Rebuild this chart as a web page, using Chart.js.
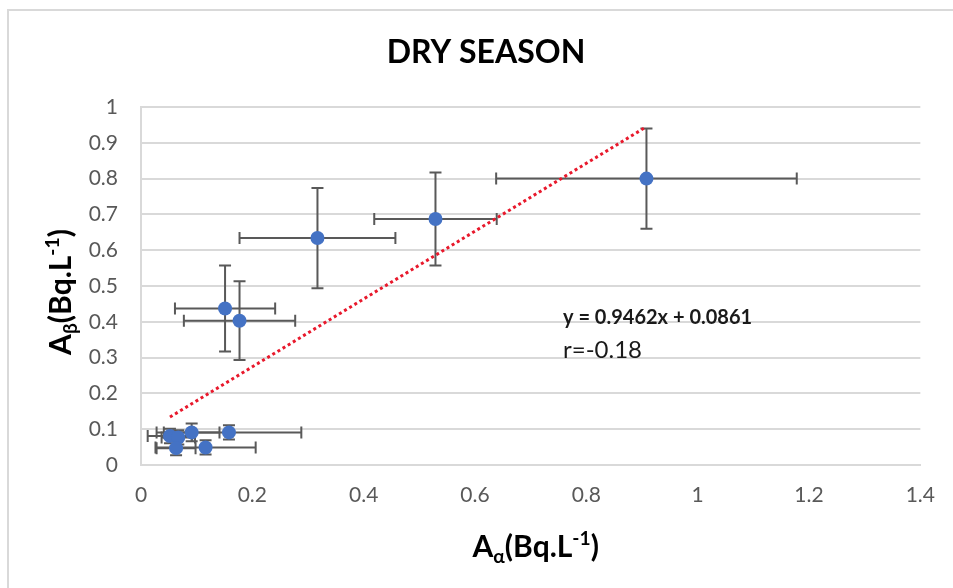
<!DOCTYPE html>
<html>
<head>
<meta charset="utf-8">
<title>Dry season</title>
<script src="https://cdn.jsdelivr.net/npm/chart.js@4.4.1/dist/chart.umd.min.js"></script>
<style>
    html, body { margin: 0; padding: 0; background: #fff; }
    #wrap { width: 953px; height: 588px; }
</style>
</head>
<body>
<div id="wrap"><canvas id="dry-season-chart"></canvas></div>
<script>
// Alpha / beta activity, dry season (Bq.L-1)
const alphaActivity = [0.908, 0.529, 0.317, 0.151, 0.177, 0.091, 0.158, 0.052, 0.067, 0.063, 0.116];
const betaActivity  = [0.800, 0.687, 0.634, 0.437, 0.403, 0.091, 0.091, 0.081, 0.077, 0.047, 0.049];
const alphaError    = [0.27, 0.11, 0.14, 0.09, 0.10, 0.05, 0.13, 0.04, 0.03, 0.035, 0.09];
const betaError     = [0.14, 0.13, 0.14, 0.12, 0.11, 0.025, 0.02, 0.02, 0.02, 0.02, 0.02];

// linear trendline as drawn (end points)
const trendX = [0.052, 0.908];
const trendY = [0.134, 0.945];

const xTicks = [0, 0.2, 0.4, 0.6, 0.8, 1, 1.2, 1.4];
const yTicks = [0, 0.1, 0.2, 0.3, 0.4, 0.5, 0.6, 0.7, 0.8, 0.9, 1];

const chartTitle = 'DRY SEASON';
const equationText = 'y = 0.9462x + 0.0861';
const rText = 'r=-0.18';

const FONT = 'Lato, "Open Sans", sans-serif';

// draws text with sub/superscript pieces, centred on (cx, cy)
function drawRich(ctx, parts, cx, cy, size) {
    let total = 0;
    parts.forEach(p => {
        p.size = p.shift ? size * 0.64 : size;
        ctx.font = `bold ${p.size}px ${FONT}`;
        p.w = ctx.measureText(p.text).width;
        total += p.w;
    });
    let x = cx - total / 2;
    const base = cy + size * 0.36;
    ctx.textAlign = 'left';
    ctx.textBaseline = 'alphabetic';
    parts.forEach(p => {
        ctx.font = `bold ${p.size}px ${FONT}`;
        let dy = 0;
        if (p.shift === 'sub') dy = size * 0.2;
        if (p.shift === 'sup') dy = -size * 0.4;
        ctx.fillText(p.text, x, base + dy);
        x += p.w;
    });
}

const decorations = {
    id: 'decorations',
    beforeDraw(chart) {
        const ctx = chart.ctx;
        ctx.save();
        ctx.fillStyle = '#ffffff';
        ctx.fillRect(0, 0, chart.width, chart.height);
        ctx.strokeStyle = '#d9d9d9';
        ctx.lineWidth = 2;
        ctx.strokeRect(8, 10, 1000, 1000);
        ctx.restore();
    },
    beforeDatasetsDraw(chart) {
        // error bars, behind the markers
        const ctx = chart.ctx;
        const xs = chart.scales.x;
        const ys = chart.scales.y;
        const cap = 6;
        ctx.save();
        ctx.strokeStyle = '#595959';
        ctx.lineWidth = 2;
        alphaActivity.forEach((a, i) => {
            const px = xs.getPixelForValue(a);
            const py = ys.getPixelForValue(betaActivity[i]);
            const x0 = xs.getPixelForValue(a - alphaError[i]);
            const x1 = xs.getPixelForValue(a + alphaError[i]);
            const y0 = ys.getPixelForValue(betaActivity[i] - betaError[i]);
            const y1 = ys.getPixelForValue(betaActivity[i] + betaError[i]);
            ctx.beginPath();
            ctx.moveTo(x0, py); ctx.lineTo(x1, py);
            ctx.moveTo(x0, py - cap); ctx.lineTo(x0, py + cap);
            ctx.moveTo(x1, py - cap); ctx.lineTo(x1, py + cap);
            ctx.moveTo(px, y0); ctx.lineTo(px, y1);
            ctx.moveTo(px - cap, y0); ctx.lineTo(px + cap, y0);
            ctx.moveTo(px - cap, y1); ctx.lineTo(px + cap, y1);
            ctx.stroke();
        });
        ctx.restore();
    },
    afterDraw(chart) {
        const ctx = chart.ctx;
        const area = chart.chartArea;
        ctx.save();
        ctx.fillStyle = '#000000';

        // title
        ctx.font = `bold 32px ${FONT}`;
        ctx.textAlign = 'center';
        ctx.textBaseline = 'middle';
        ctx.fillText(chartTitle, 486, 53);

        // axis titles
        drawRich(ctx, [
            { text: 'A' }, { text: 'α', shift: 'sub' }, { text: '(Bq.L' },
            { text: '-1', shift: 'sup' }, { text: ')' }
        ], (area.left + area.right) / 2 + 5, 546, 30);

        ctx.translate(60, (area.top + area.bottom) / 2 + 6);
        ctx.rotate(-Math.PI / 2);
        drawRich(ctx, [
            { text: 'A' }, { text: 'β', shift: 'sub' }, { text: '(Bq.L' },
            { text: '-1', shift: 'sup' }, { text: ')' }
        ], 0, 0, 30);
        ctx.setTransform(1, 0, 0, 1, 0, 0);

        // trendline label
        ctx.textAlign = 'left';
        ctx.textBaseline = 'middle';
        ctx.fillStyle = '#1a1a1a';
        ctx.font = `bold 20px ${FONT}`;
        ctx.fillText(equationText, 563, 318);
        ctx.font = `24px ${FONT}`;
        ctx.fillText(rText, 563, 350);
        ctx.restore();
    }
};

const ctx = document.getElementById('dry-season-chart').getContext('2d');
ctx.canvas.width = 953;
ctx.canvas.height = 588;

new Chart(ctx, {
    type: 'scatter',
    data: {
        datasets: [{
            type: 'line',
            label: 'Linear trend',
            data: trendX.map((x, i) => ({ x: x, y: trendY[i] })),
            borderColor: '#e8192c',
            borderWidth: 3,
            borderDash: [3, 3],
            pointRadius: 0,
            fill: false,
            tension: 0
        }, {
            label: 'Dry season',
            data: alphaActivity.map((x, i) => ({ x: x, y: betaActivity[i] })),
            backgroundColor: '#4472c4',
            borderColor: '#4472c4',
            borderWidth: 0,
            pointRadius: 7,
            pointHoverRadius: 7
        }]
    },
    options: {
        responsive: false,
        maintainAspectRatio: false,
        animation: false,
        layout: {
            padding: { top: 107, right: 31, bottom: 0, left: 0 }
        },
        scales: {
            x: {
                type: 'linear',
                min: 0,
                max: 1.4,
                afterBuildTicks: scale => { scale.ticks = xTicks.map(v => ({ value: v })); },
                afterFit: scale => { scale.height = 123; },
                grid: { display: false, drawTicks: false },
                border: { display: true, color: '#d9d9d9', width: 2 },
                ticks: {
                    padding: 18,
                    color: '#595959',
                    font: { family: FONT, size: 21 },
                    callback: v => String(Number(v.toFixed(1)))
                }
            },
            y: {
                type: 'linear',
                min: 0,
                max: 1,
                afterBuildTicks: scale => { scale.ticks = yTicks.map(v => ({ value: v })); },
                afterFit: scale => { scale.width = 141; },
                grid: { color: '#d9d9d9', lineWidth: 2, drawTicks: false },
                border: { display: true, color: '#d9d9d9', width: 2 },
                ticks: {
                    padding: 23,
                    color: '#595959',
                    font: { family: FONT, size: 21 },
                    callback: v => String(Number(v.toFixed(1)))
                }
            }
        },
        plugins: {
            legend: { display: false },
            title: { display: false },
            tooltip: { enabled: false }
        }
    },
    plugins: [decorations]
});
</script>
</body>
</html>
